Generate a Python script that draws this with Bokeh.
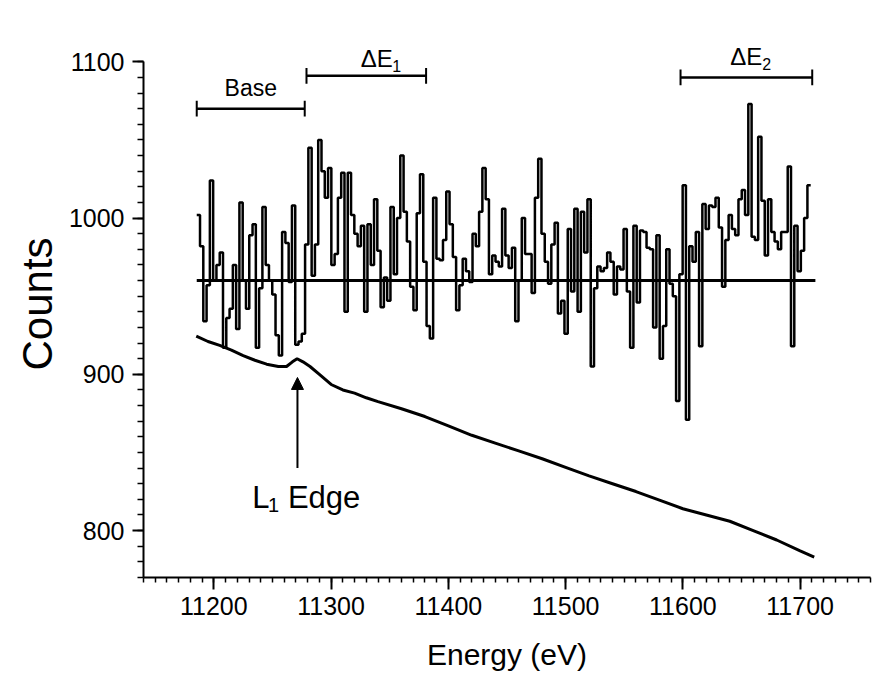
from bokeh.plotting import figure
from bokeh.models import Range1d, Arrow, NormalHead, SingleIntervalTicker
from bokeh.core.properties import value
from bokeh.embed import file_html
from bokeh.resources import INLINE

# ---------------- data ----------------
E_START = 11185.4      # eV, first bin edge of the difference spectrum
E_STEP = 2.8           # eV, bin width
counts = [
    1002, 982, 934, 957, 1024, 960, 970, 978, 917, 936,
    942, 970, 929, 1010, 960, 942, 989, 996, 917, 955,
    1007, 970, 960, 951, 925, 912, 991, 984, 959, 1008,
    919, 921, 926, 983, 1045, 963, 983, 1050, 1030, 1013,
    1032, 970, 977, 1013, 1029, 940, 1029, 1002, 990, 982,
    995, 940, 996, 970, 1012, 979, 943, 962, 947, 1007,
    964, 1000, 1040, 1004, 985, 956, 941, 1003, 1028, 972,
    931, 923, 1013, 974, 973, 986, 1017, 996, 975, 941,
    957, 974, 966, 959, 990, 982, 1004, 1032, 1012, 964,
    976, 972, 969, 1006, 976, 968, 981, 934, 960, 1000,
    977, 977, 952, 1013, 1038, 990, 972, 958, 983, 997,
    939, 947, 926, 993, 953, 1006, 940, 1004, 978, 1012,
    905, 955, 969, 966, 968, 978, 972, 951, 969, 967,
    993, 953, 917, 995, 946, 992, 991, 981, 980, 930,
    989, 910, 931, 980, 958, 950, 883, 964, 1021, 871,
    982, 972, 991, 918, 1009, 993, 1008, 1007, 1013, 994,
    956, 986, 1002, 993, 989, 1012, 1018, 1002, 1073, 988,
    986, 1052, 1011, 976, 1012, 991, 985, 980, 991, 991,
    1033, 918, 995, 966, 979, 1000, 1021,
]
baseline_level = 960
baseline_energy = [11185.4, 11713.0]

bg_energy = [11185, 11195, 11205, 11215, 11225, 11235, 11245, 11255, 11262,
             11267, 11271, 11276, 11282, 11290, 11300, 11310, 11320, 11330,
             11340, 11360, 11380, 11400, 11420, 11440, 11460, 11480, 11500,
             11520, 11540, 11560, 11580, 11600, 11620, 11640, 11660, 11680,
             11700, 11712]
bg_counts = [924.5, 921, 918.5, 915.5, 912, 909, 906.5, 905, 905,
             908, 910, 908, 905, 900, 893.5, 890, 888, 885,
             882.5, 878, 873, 867, 861, 856, 851, 846, 840.5,
             835, 830, 825, 819.5, 814, 810, 806, 800, 794,
             787, 783]

bracket_names = ["Base", "ΔE1", "ΔE2"]
bracket_start = [11185.4, 11279.0, 11598.0]
bracket_end = [11277.5, 11381.0, 11710.3]
bracket_level = [1070, 1091, 1090]

x_ticks = [11200, 11300, 11400, 11500, 11600, 11700]
y_ticks = [800, 900, 1000, 1100]

# ---------------- figure ----------------
FONT = "Liberation Sans"
p = figure(width=879, height=679, output_backend="svg", toolbar_location=None,
           x_range=Range1d(11140, 11760), y_range=Range1d(770, 1120),
           min_border_left=143, min_border_right=9, min_border_top=30,
           min_border_bottom=102)
p.outline_line_color = None
p.xgrid.visible = False
p.ygrid.visible = False
p.background_fill_color = "white"
p.border_fill_color = "white"

for ax, ticks in ((p.xaxis[0], x_ticks), (p.yaxis[0], y_ticks)):
    ax.ticker = SingleIntervalTicker(interval=ticks[1] - ticks[0], num_minor_ticks=10)
    ax.axis_line_width = 2
    ax.major_tick_line_width = 2
    ax.minor_tick_line_width = 1.5
    ax.major_tick_in = 0
    ax.minor_tick_in = 0
    ax.major_label_text_font = FONT
    ax.major_label_text_font_size = "25px"
    ax.major_label_text_color = "black"
    ax.axis_label_text_font = FONT
    ax.axis_label_text_font_style = "normal"
    ax.axis_label_text_color = "black"

p.yaxis.bounds = (770, 1100)
p.xaxis.major_tick_out = 12
p.xaxis.minor_tick_out = 5
p.yaxis.major_tick_out = 11
p.yaxis.minor_tick_out = 6
p.xaxis.major_label_standoff = 7
p.yaxis.major_label_standoff = 8
p.xaxis.axis_label = "Energy (eV)"
p.yaxis.axis_label = "Counts"
p.xaxis.axis_label_text_font_size = "30px"
p.yaxis.axis_label_text_font_size = "42px"
p.xaxis.axis_label_standoff = 20
p.yaxis.axis_label_standoff = 5

# difference spectrum (histogram steps)
edges = [E_START + E_STEP * i for i in range(len(counts) + 1)]
p.step(edges, counts + [counts[-1]], mode="after", line_color="black", line_width=2.5)

# baseline level
p.line(baseline_energy, [baseline_level] * 2, line_color="black", line_width=3)

# raw background spectrum
p.line(bg_energy, bg_counts, line_color="black", line_width=3)

# brackets
p.segment(bracket_start, bracket_level, bracket_end, bracket_level,
          line_color="black", line_width=2.5)
p.segment(bracket_start + bracket_end, [l - 5 for l in bracket_level] * 2,
          bracket_start + bracket_end, [l + 5 for l in bracket_level] * 2,
          line_color="black", line_width=2)

txt = dict(text_font=value(FONT), text_color="black", text_align="center",
           text_baseline="middle")
p.text([11231.5], [1083.4], text=["Base"], text_font_size="23px", **txt)
p.text([11339, 11654], [1102, 1103.2], text=["ΔE", "ΔE"], text_font_size="24px", **txt)
p.text([11356, 11671.5], [1097.6, 1098.3], text=["1", "2"], text_font_size="16px", **txt)

# L1 edge annotation
p.add_layout(Arrow(end=NormalHead(size=12, fill_color="black", line_color="black"),
                   x_start=11271.3, y_start=840, x_end=11271.3, y_end=898,
                   line_color="black", line_width=2))
p.text([11240], [821], text=["L"], text_font_size="31px", **txt)
p.text([11251], [816.5], text=["1"], text_font_size="20px", **txt)
p.text([11294], [821], text=["Edge"], text_font_size="31px", **txt)

open("out.html", "w").write(file_html(p, INLINE))
